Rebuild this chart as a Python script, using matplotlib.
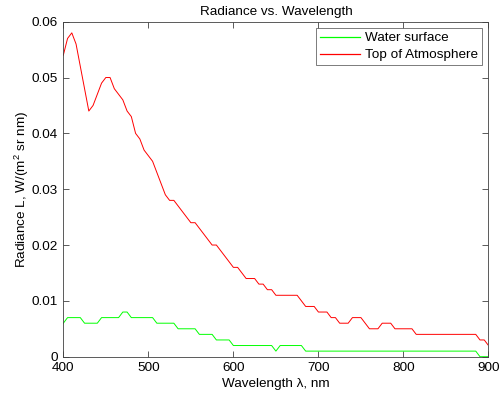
import matplotlib
matplotlib.use("Agg")
import matplotlib.pyplot as plt
import numpy as np

plt.rcParams['font.family'] = ['Liberation Sans', 'DejaVu Sans']
plt.rcParams['mathtext.default'] = 'regular'

# Data (5 nm sampling)
wavelength = np.arange(400, 901, 5)

top_of_atmosphere = [
    0.054, 0.057, 0.058, 0.056, 0.052, 0.048, 0.044, 0.045, 0.047, 0.049,  # 400-445
    0.050, 0.050, 0.048, 0.047, 0.046, 0.044, 0.043, 0.040, 0.039, 0.037,  # 450-495
    0.036, 0.035, 0.033, 0.031, 0.029, 0.028, 0.028, 0.027, 0.026, 0.025,  # 500-545
    0.024, 0.024, 0.023, 0.022, 0.021, 0.020, 0.020, 0.019, 0.018, 0.017,  # 550-595
    0.016, 0.016, 0.015, 0.014, 0.014, 0.014, 0.013, 0.013, 0.012, 0.012,  # 600-645
    0.011, 0.011, 0.011, 0.011, 0.011, 0.011, 0.010, 0.009, 0.009, 0.009,  # 650-695
    0.008, 0.008, 0.008, 0.007, 0.007, 0.006, 0.006, 0.006, 0.007, 0.007,  # 700-745
    0.007, 0.006, 0.005, 0.005, 0.005, 0.006, 0.006, 0.006, 0.005, 0.005,  # 750-795
    0.005, 0.005, 0.005, 0.004, 0.004, 0.004, 0.004, 0.004, 0.004, 0.004,  # 800-845
    0.004, 0.004, 0.004, 0.004, 0.004, 0.004, 0.004, 0.004, 0.003, 0.003,  # 850-895
    0.002,                                                                 # 900
]

water_surface = [
    0.006, 0.007, 0.007, 0.007, 0.007, 0.006, 0.006, 0.006, 0.006, 0.007,  # 400-445
    0.007, 0.007, 0.007, 0.007, 0.008, 0.008, 0.007, 0.007, 0.007, 0.007,  # 450-495
    0.007, 0.007, 0.006, 0.006, 0.006, 0.006, 0.006, 0.005, 0.005, 0.005,  # 500-545
    0.005, 0.005, 0.004, 0.004, 0.004, 0.004, 0.003, 0.003, 0.003, 0.003,  # 550-595
    0.002, 0.002, 0.002, 0.002, 0.002, 0.002, 0.002, 0.002, 0.002, 0.002,  # 600-645
    0.001, 0.002, 0.002, 0.002, 0.002, 0.002, 0.002, 0.001, 0.001, 0.001,  # 650-695
    0.001, 0.001, 0.001, 0.001, 0.001, 0.001, 0.001, 0.001, 0.001, 0.001,  # 700-745
    0.001, 0.001, 0.001, 0.001, 0.001, 0.001, 0.001, 0.001, 0.001, 0.001,  # 750-795
    0.001, 0.001, 0.001, 0.001, 0.001, 0.001, 0.001, 0.001, 0.001, 0.001,  # 800-845
    0.001, 0.001, 0.001, 0.001, 0.001, 0.001, 0.001, 0.001, 0.000, 0.000,  # 850-895
    0.000,                                                                 # 900
]

fs = 9.7
red = "#ff0000"
green = "#00ff00"

fig = plt.figure(figsize=(4.99, 4.01), dpi=100)
ax = fig.add_axes([63.3 / 499, (401 - 356.7) / 401, (488.5 - 63.3) / 499, (356.7 - 21.7) / 401])

ax.plot(wavelength, water_surface, color=green, lw=0.7, label="Water surface")
ax.plot(wavelength, top_of_atmosphere, color=red, lw=0.7, label="Top of Atmosphere")

ax.set_xlim(400, 900)
ax.set_ylim(0, 0.06)
ax.set_xticks([400, 500, 600, 700, 800, 900])
ax.set_yticks([0, 0.01, 0.02, 0.03, 0.04, 0.05, 0.06])
ax.set_yticklabels(["0", "0.01", "0.02", "0.03", "0.04", "0.05", "0.06"])

ax.tick_params(direction="in", top=True, right=True, length=4, width=0.6,
               labelsize=fs, color="#404040", labelcolor="black")
ax.tick_params(axis="x", pad=4)
ax.tick_params(axis="y", pad=4)
for s in ax.spines.values():
    s.set_color("#404040")
    s.set_linewidth(0.6)

ax.set_title("Radiance vs. Wavelength", fontsize=fs, pad=5)
ax.set_xlabel("Wavelength λ, nm", fontsize=fs, labelpad=3)
ax.set_ylabel("Radiance L, W/(m$^{2}$ sr nm)", fontsize=fs, labelpad=0)

leg = ax.legend(loc="upper right", fontsize=fs, frameon=True, fancybox=False,
                handlelength=3.0, borderpad=0.3, labelspacing=0.35,
                borderaxespad=0.45, handletextpad=0.4)
leg.get_frame().set_edgecolor("#404040")
leg.get_frame().set_linewidth(0.6)
for h, c in zip(leg.legend_handles, [green, red]):
    h.set_color(c)
    h.set_linewidth(0.9)

fig.savefig("out.png", dpi=100)
